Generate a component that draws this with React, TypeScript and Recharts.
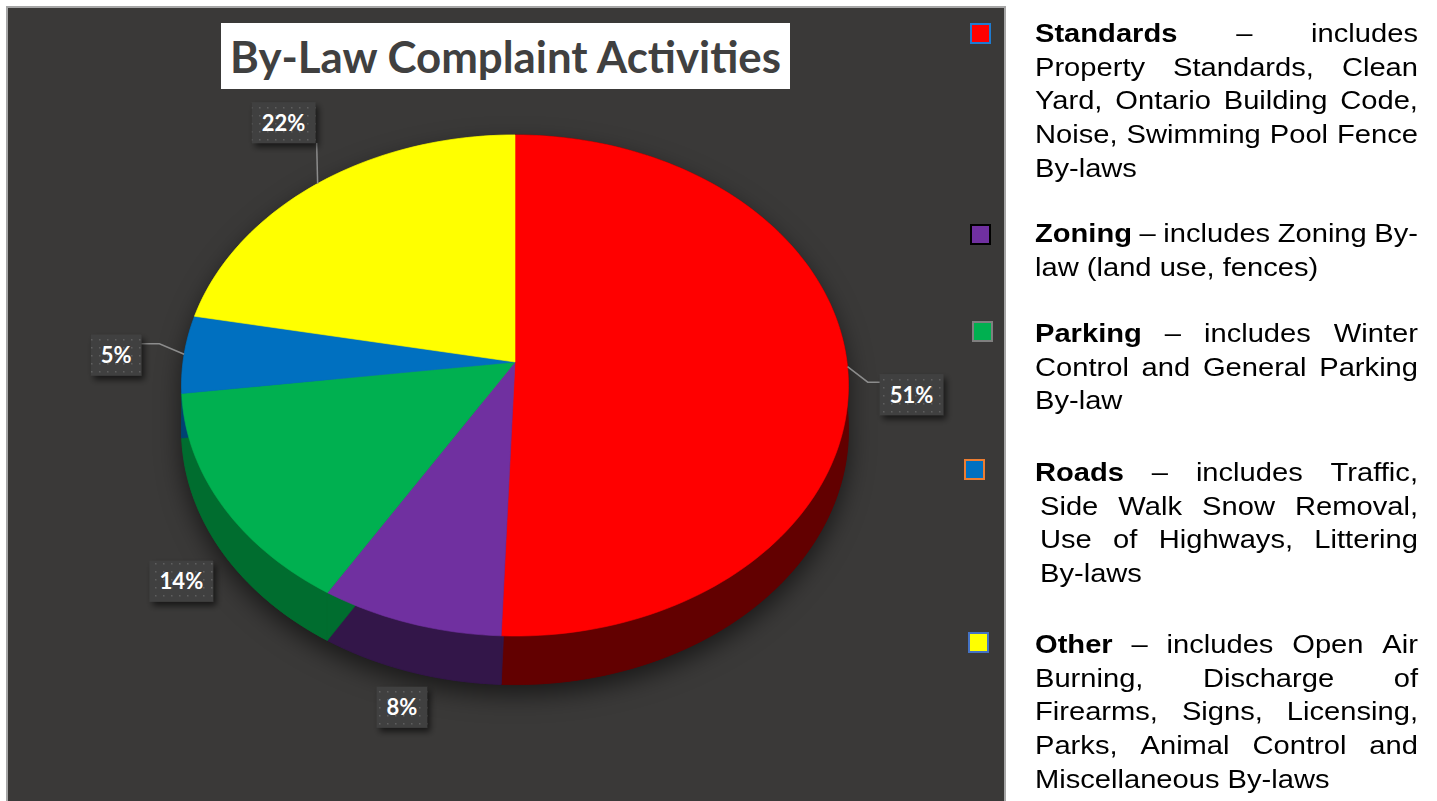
import React from 'react';
import { PieChart, Pie } from 'recharts';

// chart values (slice angles; labels round them)
const categories = ['Standards', 'Zoning', 'Parking', 'Roads', 'Other'];
const shares = [50.6, 8.1, 14.3, 5.0, 22.0];
const topColors = ['#FF0000', '#7030A0', '#00B050', '#0070C0', '#FFFF00'];
const sideColors = ['#620000', '#331649', '#006D2F', '#004272', '#8C8C00'];
const markerBorders = ['#1F7BD0', '#000000', '#7F7F7F', '#ED7D31', '#4472C4'];
const chartTitle = 'By-Law Complaint Activities';
const legendLines = [
  ['Standards – includes', 'Property Standards, Clean', 'Yard, Ontario Building Code,', 'Noise, Swimming Pool Fence', 'By-laws'],
  ['Zoning – includes Zoning By-', 'law (land use, fences)'],
  ['Parking – includes Winter', 'Control and General Parking', 'By-law'],
  ['Roads – includes Traffic,', 'Side Walk Snow Removal,', 'Use of Highways, Littering', 'By-laws'],
  ['Other – includes Open Air', 'Burning, Discharge of', 'Firearms, Signs, Licensing,', 'Parks, Animal Control and', 'Miscellaneous By-laws'],
];

// layout
const PIE_CX = 515;
const PIE_CY = 362;
const PIE_R = 332;
const TILT = 0.748; // vertical squash of the top face
const PERSP = 0.0938; // front of the pie looks bigger than the back
const DEPTH = 44;

// label box offsets from the slice edge (Excel "best fit" positions)
const LABEL_PLACEMENT = [
  { dx: 64, dy: 28, leader: 'right' },
  { dx: -8, dy: 84, leader: '' },
  { dx: -40, dy: 77, leader: '' },
  { dx: -68, dy: 1, leader: 'left' },
  { dx: -34, dy: -61, leader: 'up' },
];
const MARKER_POS = [
  [970, 23],
  [970, 224],
  [972, 321],
  [964, 459],
  [968, 632],
];
const PARA_BASELINES = [43, 243, 343, 482, 654];

const LEGEND_LEFT = 1035;
const LEGEND_WIDTH = 383;
const LINE_STEP = 33.6;
const FONT_PX = 26;
const STRETCH = 1.12;

const data = categories.map((name, i) => ({
  name,
  value: shares[i],
  fill: topColors[i],
  side: sideColors[i],
}));

// theta: degrees clockwise from 12 o'clock
function project(cx: number, cy: number, r: number, theta: number): [number, number, number] {
  const t = (theta * Math.PI) / 180;
  const u = Math.sin(t);
  const v = -Math.cos(t);
  const s = 1 / (1 - PERSP * v);
  return [cx + r * u * s, cy + r * TILT * v * s, s];
}

function arcPoints(cx: number, cy: number, r: number, t0: number, t1: number, depth: number) {
  const n = Math.max(2, Math.ceil(Math.abs(t1 - t0) / 1.5));
  const pts: number[][] = [];
  for (let i = 0; i <= n; i++) {
    const t = t0 + ((t1 - t0) * i) / n;
    const [x, y, s] = project(cx, cy, r, t);
    pts.push([x, y + depth * s]);
  }
  return pts;
}

const toPath = (pts: number[][]) =>
  pts.map((p, i) => `${i ? 'L' : 'M'}${p[0].toFixed(2)},${p[1].toFixed(2)}`).join(' ') + ' Z';

const renderTop = (props: any) => {
  const { cx, cy, outerRadius, startAngle, endAngle, fill } = props;
  const pts = [[cx, cy], ...arcPoints(cx, cy, outerRadius, 90 - startAngle, 90 - endAngle, 0)];
  return <path d={toPath(pts)} fill={fill} stroke={fill} strokeWidth={0.6} strokeLinejoin="round" />;
};

const renderBase = (props: any) => {
  const { cx, cy, outerRadius, startAngle, endAngle } = props;
  const side = props.side ?? props.payload?.side;
  const t0 = 90 - startAngle;
  const t1 = 90 - endAngle;
  const top = arcPoints(cx, cy, outerRadius, t0, t1, 0);
  const bottom = arcPoints(cx, cy, outerRadius, t0, t1, DEPTH);
  const face = [[cx, cy + DEPTH], ...bottom];
  const wall = [...top, ...[...bottom].reverse()];
  return (
    <g>
      <path d={toPath(face)} fill={side} stroke={side} strokeWidth={0.6} />
      <path d={toPath(wall)} fill={side} stroke={side} strokeWidth={0.6} />
    </g>
  );
};

const renderLabel = (props: any) => {
  const { cx, cy, outerRadius, midAngle, percent, index } = props;
  const place = LABEL_PLACEMENT[index];
  const [ax, ay] = project(cx, cy, outerRadius, 90 - midAngle);
  const text = `${Math.round(percent * 100)}%`;
  const w = 18 + 13 * (text.length - 1) + 19.5;
  const h = 41;
  const bx = ax + place.dx;
  const by = ay + place.dy;
  const left = bx - w / 2;
  const top = by - h / 2;
  let pts: number[][] | null = null;
  if (place.leader === 'right') pts = [[ax, ay], [left - 12, top + 8], [left, top + 8]];
  if (place.leader === 'left') pts = [[ax, ay], [left + w + 18, top + 9], [left + w, top + 9]];
  if (place.leader === 'up') pts = [[ax, ay], [ax - 1, top + h]];
  return (
    <g>
      {pts && (
        <polyline
          points={pts.map((p) => p.join(',')).join(' ')}
          fill="none"
          stroke="#8C8C8C"
          strokeWidth={1.5}
        />
      )}
      <rect x={left} y={top} width={w} height={h} fill="url(#dotPat)" filter="url(#lblShadow)" />
      <text
        x={bx}
        y={by + 8}
        textAnchor="middle"
        fill="#FFFFFF"
        fontFamily="Lato, 'Open Sans', sans-serif"
        fontWeight={700}
        fontSize={22}
      >
        {text}
      </text>
    </g>
  );
};

function LegendLine({ text, bold, justify, top, indent }: any) {
  const words = text.split(' ');
  const inner = (LEGEND_WIDTH - indent) / STRETCH;
  return (
    <div
      style={{
        position: 'absolute',
        left: LEGEND_LEFT + indent,
        top,
        height: LINE_STEP,
        width: LEGEND_WIDTH - indent,
      }}
    >
      <div
        style={{
          width: inner,
          transform: `scaleX(${STRETCH})`,
          transformOrigin: 'left top',
          display: 'flex',
          justifyContent: justify ? 'space-between' : 'flex-start',
          whiteSpace: 'pre',
          fontFamily: "'Liberation Sans', Arial, sans-serif",
          fontSize: FONT_PX,
          lineHeight: `${LINE_STEP}px`,
          color: '#000',
        }}
      >
        {justify ? (
          words.map((w: string, i: number) => (
            <span key={i} style={{ fontWeight: bold && i === 0 ? 700 : 400 }}>
              {w}
            </span>
          ))
        ) : (
          <span>{text}</span>
        )}
      </div>
    </div>
  );
}

export default function App() {
  // baseline sits about 25.8px below the top of a 33.6px line box at 26px
  const baselineShift = (LINE_STEP - FONT_PX * 1.117) / 2 + FONT_PX * 0.905;
  const legendRows: React.ReactNode[] = [];
  legendLines.forEach((lines, p) => {
    lines.forEach((line, j) => {
      const top = PARA_BASELINES[p] + j * LINE_STEP - baselineShift;
      legendRows.push(
        <LegendLine
          key={`${p}-${j}`}
          text={line}
          bold={j === 0}
          justify={j < lines.length - 1}
          top={top}
          indent={p === 3 && j > 0 ? 5 : 0}
        />
      );
    });
  });

  return (
    <div
      style={{
        position: 'absolute',
        left: 0,
        top: 0,
        width: 1437,
        height: 801,
        overflow: 'hidden',
        background: '#FFFFFF',
      }}
    >
      <style>{`.pie-base { filter: drop-shadow(0px 10px 12px rgba(0,0,0,0.55)); }`}</style>
      <svg width={0} height={0} style={{ position: 'absolute' }}>
        <defs>
          <pattern id="dotPat" width={8} height={8} patternUnits="userSpaceOnUse">
            <rect width={8} height={8} fill="#404040" />
            <rect x={3} y={3} width={1.5} height={1.5} fill="#5E5E5E" />
          </pattern>
          <filter id="lblShadow" x="-30%" y="-30%" width="160%" height="170%">
            <feDropShadow dx={3} dy={4} stdDeviation={3} floodColor="#000" floodOpacity={0.6} />
          </filter>
        </defs>
      </svg>

      <div
        style={{
          position: 'absolute',
          left: 6,
          top: 6,
          width: 1000,
          height: 820,
          boxSizing: 'border-box',
          border: '2px solid #A6A6A6',
          background: '#3A3938',
        }}
      />

      <div style={{ position: 'absolute', left: 0, top: 0 }}>
        <PieChart width={1005} height={801} margin={{ top: 0, right: 0, bottom: 0, left: 0 }}>
          <Pie
            className="pie-base"
            data={data}
            dataKey="value"
            cx={PIE_CX}
            cy={PIE_CY}
            outerRadius={PIE_R}
            startAngle={90}
            endAngle={-270}
            isAnimationActive={false}
            shape={renderBase}
            label={false}
            labelLine={false}
            legendType="none"
          />
          <Pie
            data={data}
            dataKey="value"
            cx={PIE_CX}
            cy={PIE_CY}
            outerRadius={PIE_R}
            startAngle={90}
            endAngle={-270}
            isAnimationActive={false}
            shape={renderTop}
            label={renderLabel}
            labelLine={false}
            legendType="none"
          />
        </PieChart>
      </div>

      <svg width={569} height={66} style={{ position: 'absolute', left: 221, top: 23 }}>
        <rect width={569} height={66} fill="#FFFFFF" />
        <text
          x={9}
          y={49.7}
          textLength={551}
          lengthAdjust="spacingAndGlyphs"
          fill="#404040"
          fontFamily="Lato, 'Open Sans', sans-serif"
          fontWeight={700}
          fontSize={43}
        >
          {chartTitle}
        </text>
      </svg>

      {MARKER_POS.map(([x, y], i) => (
        <div
          key={categories[i]}
          style={{
            position: 'absolute',
            left: x,
            top: y,
            width: 21,
            height: 21,
            boxSizing: 'border-box',
            border: `2px solid ${markerBorders[i]}`,
            background: topColors[i],
          }}
        />
      ))}

      {legendRows}
    </div>
  );
}
